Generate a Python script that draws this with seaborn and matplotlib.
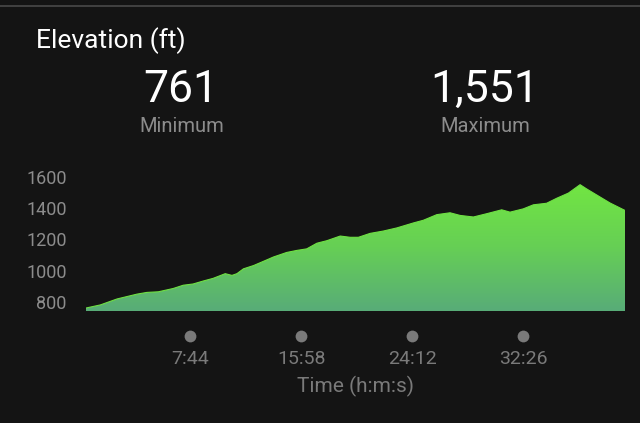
import numpy as np
import pandas as pd
import matplotlib.pyplot as plt
import seaborn as sns
from matplotlib.colors import LinearSegmentedColormap
from matplotlib.lines import Line2D
import matplotlib.transforms as mtransforms

# --- data ---
time_s = [0, 64, 138, 227, 271, 322, 388, 433, 477, 522, 566, 620, 650, 672,
          701, 746, 790, 835, 894, 939, 983, 1028, 1072, 1132, 1176, 1213,
          1265, 1324, 1384, 1458, 1502, 1562, 1621, 1666, 1725, 1784, 1851,
          1888, 1947, 1992, 2051, 2096, 2148, 2200, 2229, 2274, 2333, 2400]
elevation_ft = [761, 781, 819, 850, 861, 865, 886, 907, 915, 934, 951, 981,
                970, 981, 1012, 1033, 1060, 1088, 1117, 1130, 1140, 1176, 1192,
                1222, 1214, 1214, 1239, 1254, 1274, 1306, 1323, 1359, 1371,
                1354, 1344, 1365, 1390, 1375, 1396, 1422, 1432, 1464, 1497,
                1551, 1524, 1485, 1434, 1386]
tick_times = [464, 958, 1452, 1946]
tick_labels = ['7:44', '15:58', '24:12', '32:26']
y_ticks = [800, 1000, 1200, 1400, 1600]
min_label = '761'
max_label = '1,551'

df = pd.DataFrame({'time': time_s, 'elev': elevation_ft})

bg = '#141414'
sns.set_theme(style='dark', rc={'axes.facecolor': bg, 'figure.facecolor': bg})
plt.rcParams['font.family'] = ['Roboto', 'DejaVu Sans']

fig = plt.figure(figsize=(6.4, 4.23), dpi=100)
ax = fig.add_axes([86 / 640, 1 - 311 / 423, 539 / 640, 146 / 423])
ax.set_facecolor(bg)

ylo, yhi = 742, 1677
ax.set_xlim(0, 2400)
ax.set_ylim(ylo, yhi)

# gradient fill under the profile
poly = ax.fill_between(df['time'], df['elev'], ylo, color='none', lw=0)
cmap = LinearSegmentedColormap.from_list('elev', ['#58ac78', '#66cf55', '#72e642'])
grad = np.linspace(0, 1, 256).reshape(-1, 1)
img = ax.imshow(grad, cmap=cmap, origin='lower', aspect='auto',
                extent=[0, 2400, ylo, 1560], zorder=1)
img.set_clip_path(poly.get_paths()[0], transform=ax.transData)
sns.lineplot(data=df, x='time', y='elev', ax=ax, color='#6fe043', lw=0.8, zorder=2)

for s in ax.spines.values():
    s.set_visible(False)
ax.grid(False)

ax.set_yticks(y_ticks)
ax.set_yticklabels([str(v) for v in y_ticks])
ax.tick_params(axis='y', length=0, pad=14, labelsize=13, labelcolor='#8c8c8c')

ax.set_xticks(tick_times)
ax.set_xticklabels(tick_labels)
ax.tick_params(axis='x', length=0, pad=28, labelsize=14, labelcolor='#7a7a7a')
ax.set_xlabel('Time (h:m:s)', color='#7a7a7a', fontsize=15, labelpad=6)
ax.set_ylabel('')

# dot markers above the time labels
trans = mtransforms.blended_transform_factory(ax.transData, ax.transAxes)
ax.scatter(tick_times, [-0.171] * len(tick_times), s=72, color='#7a7a7a',
           transform=trans, clip_on=False, zorder=3, linewidths=0)

# header
fig.add_artist(Line2D([0, 1], [1 - 6.5 / 423] * 2, color='#4a4a4a', lw=1.2))
fig.text(36 / 640, 1 - 41 / 423, 'Elevation (ft)', color='white', fontsize=19,
         va='center', ha='left')
fig.text(181 / 640, 1 - 90 / 423, min_label, color='white', fontsize=32,
         va='center', ha='center')
fig.text(182 / 640, 1 - 126 / 423, 'Minimum', color='#8c8c8c', fontsize=14.5,
         va='center', ha='center')
fig.text(485 / 640, 1 - 90 / 423, max_label, color='white', fontsize=32,
         va='center', ha='center')
fig.text(485 / 640, 1 - 126 / 423, 'Maximum', color='#8c8c8c', fontsize=14.5,
         va='center', ha='center')

fig.savefig('out.png', dpi=100, facecolor=bg)
